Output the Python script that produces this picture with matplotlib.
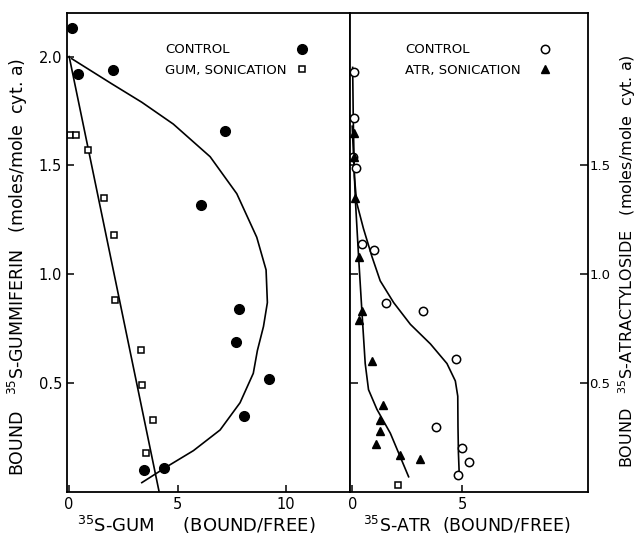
import matplotlib
matplotlib.use("Agg")
import matplotlib.pyplot as plt
from matplotlib.lines import Line2D

# left panel: 35S-gummiferin
gum_ctrl_x = [0.14, 0.41, 2.03, 7.2, 6.1, 7.85, 7.7, 9.2, 8.05, 3.47, 4.38]
gum_ctrl_y = [2.13, 1.92, 1.94, 1.66, 1.32, 0.84, 0.69, 0.52, 0.35, 0.10, 0.11]
gum_son_x = [0.02, 0.3, 0.85, 1.6, 2.07, 2.12, 3.32, 3.36, 3.87, 3.55]
gum_son_y = [1.64, 1.64, 1.57, 1.35, 1.18, 0.88, 0.65, 0.49, 0.33, 0.18]
gum_ctrl_fit_x = [0.12, 1.96, 3.35, 4.8, 6.5, 7.73, 8.65, 9.08, 9.14, 8.96, 8.68, 8.49, 7.88, 6.96, 5.73, 4.5, 3.35]
gum_ctrl_fit_y = [1.99, 1.875, 1.79, 1.69, 1.54, 1.37, 1.17, 1.02, 0.87, 0.76, 0.65, 0.545, 0.41, 0.285, 0.19, 0.116, 0.043]
gum_son_fit_x = [0.0, 4.15]
gum_son_fit_y = [2.0, 0.0]

# right panel: 35S-atractyloside
atr_ctrl_x = [0.06, 0.06, 0.05, 0.15, 0.44, 0.97, 1.53, 3.21, 4.73, 3.8, 4.99, 5.29, 4.79]
atr_ctrl_y = [1.93, 1.72, 1.54, 1.49, 1.14, 1.11, 0.87, 0.83, 0.61, 0.30, 0.20, 0.14, 0.08]
atr_son_x = [0.06, 0.06, 0.14, 0.29, 0.44, 0.29, 0.92, 1.38, 1.27, 1.24, 1.08, 2.15, 3.06]
atr_son_y = [1.65, 1.54, 1.35, 1.08, 0.83, 0.79, 0.60, 0.40, 0.33, 0.28, 0.22, 0.17, 0.15]
atr_stray_x = [2.06]
atr_stray_y = [0.03]
atr_ctrl_fit_x = [0.02, 0.05, 0.1, 0.2, 0.51, 0.9, 1.27, 1.88, 2.64, 3.55, 4.3, 4.68, 4.79, 4.8, 4.82, 4.85]
atr_ctrl_fit_y = [1.95, 1.7, 1.45, 1.33, 1.21, 1.08, 0.97, 0.87, 0.77, 0.68, 0.59, 0.51, 0.44, 0.30, 0.18, 0.10]
atr_son_fit_x = [0.0, 0.08, 0.15, 0.29, 0.44, 0.59, 0.74, 1.12, 1.73, 2.56]
atr_son_fit_y = [1.68, 1.5, 1.33, 1.08, 0.83, 0.59, 0.47, 0.38, 0.27, 0.07]

x_ticks_left = [0, 5, 10]
x_ticks_right = [0, 5]
y_ticks = [0.5, 1.0, 1.5, 2.0]
y_ticks_right = [0.5, 1.0, 1.5]

plt.rcParams['font.family'] = ['DejaVu Sans']
plt.rcParams['mathtext.fontset'] = 'dejavusans'

W, H = 639, 538
fig = plt.figure(figsize=(W / 100, H / 100), dpi=100)
ax1 = fig.add_axes([67 / W, 46 / H, 283 / W, 479 / H])
ax2 = fig.add_axes([350 / W, 46 / H, 238 / W, 479 / H])

for ax in (ax1, ax2):
    for s in ax.spines.values():
        s.set_linewidth(1.3)
    ax.set_ylim(0, 2.2)

lw = 1.2
# left
ax1.plot(gum_ctrl_fit_x, gum_ctrl_fit_y, color='black', lw=lw)
ax1.plot(gum_son_fit_x, gum_son_fit_y, color='black', lw=lw)
ax1.plot(gum_ctrl_x, gum_ctrl_y, 'o', color='black', ms=7)
ax1.plot(gum_son_x, gum_son_y, 's', mfc='white', mec='black', mew=1.1, ms=5)
ax1.set_xlim(-0.1, 12.95)
ax1.set_xticks(x_ticks_left)
ax1.set_yticks(y_ticks)
ax1.set_yticklabels(['0.5', '1.0', '1.5', '2.0'])
ax1.tick_params(direction='in', length=5, width=1.1, labelsize=10.5)
ax1.set_xlabel(r'$^{35}$S-GUM     (BOUND/FREE)', fontsize=13)
ax1.xaxis.set_label_coords(0.456, -0.045)
ax1.xaxis.label.set_va('top')
ax1.set_ylabel(r'BOUND   $^{35}$S-GUMMIFERIN   (moles/mole  cyt. a)', fontsize=12.5)
ax1.yaxis.set_label_coords(-0.13, 0.47)

# right
ax2.plot(atr_ctrl_fit_x, atr_ctrl_fit_y, color='black', lw=lw)
ax2.plot(atr_son_fit_x, atr_son_fit_y, color='black', lw=lw)
ax2.plot(atr_ctrl_x, atr_ctrl_y, 'o', mfc='white', mec='black', mew=1.1, ms=6)
ax2.plot(atr_son_x, atr_son_y, '^', color='black', ms=6)
ax2.plot(atr_stray_x, atr_stray_y, 's', mfc='white', mec='black', mew=1.1, ms=5)
ax2.set_xlim(-0.1, 10.7)
ax2.set_xticks(x_ticks_right)
ax2.set_yticks(y_ticks_right)
ax2.set_yticklabels(['0.5', '1.0', '1.5'])
ax2.tick_params(axis='x', direction='in', length=5, width=1.1, labelsize=10.5)
ax2.tick_params(axis='y', left=True, right=True, labelleft=False, labelright=True,
                direction='in', length=6, width=1.1, labelsize=9.5, pad=1)
ax2.yaxis.set_label_position('right')
ax2.set_xlabel(r'$^{35}$S-ATR  (BOUND/FREE)', fontsize=12.5)
ax2.xaxis.set_label_coords(0.49, -0.045)
ax2.xaxis.label.set_va('top')
ax2.set_ylabel(r'BOUND   $^{35}$S-ATRACTYLOSIDE   (moles/mole  cyt. a)', fontsize=11.5,
               rotation=90)
ax2.yaxis.set_label_coords(1.118, 0.482)

# legends: labels as text, keys as marker-only legends
def key_legend(ax, handles, anchor):
    leg = ax.legend(handles=handles, labels=[''] * len(handles), loc='center',
                    bbox_to_anchor=anchor, frameon=False, handlelength=1.0,
                    handletextpad=0, labelspacing=0.55, fontsize=9, borderpad=0)
    return leg

ax1.text(0.346, 0.923, 'CONTROL', transform=ax1.transAxes, fontsize=9.5, va='center')
ax1.text(0.346, 0.881, 'GUM, SONICATION', transform=ax1.transAxes, fontsize=9.5, va='center')
key_legend(ax1, [Line2D([], [], ls='none', marker='o', color='black', ms=7),
                 Line2D([], [], ls='none', marker='s', mfc='white', mec='black', mew=1.1, ms=5)],
           (0.83, 0.902))

ax2.text(0.231, 0.923, 'CONTROL', transform=ax2.transAxes, fontsize=9.5, va='center')
ax2.text(0.231, 0.881, 'ATR, SONICATION', transform=ax2.transAxes, fontsize=9.5, va='center')
key_legend(ax2, [Line2D([], [], ls='none', marker='o', mfc='white', mec='black', mew=1.1, ms=6),
                 Line2D([], [], ls='none', marker='^', color='black', ms=6)],
           (0.82, 0.902))

fig.savefig('out.png', dpi=100)
